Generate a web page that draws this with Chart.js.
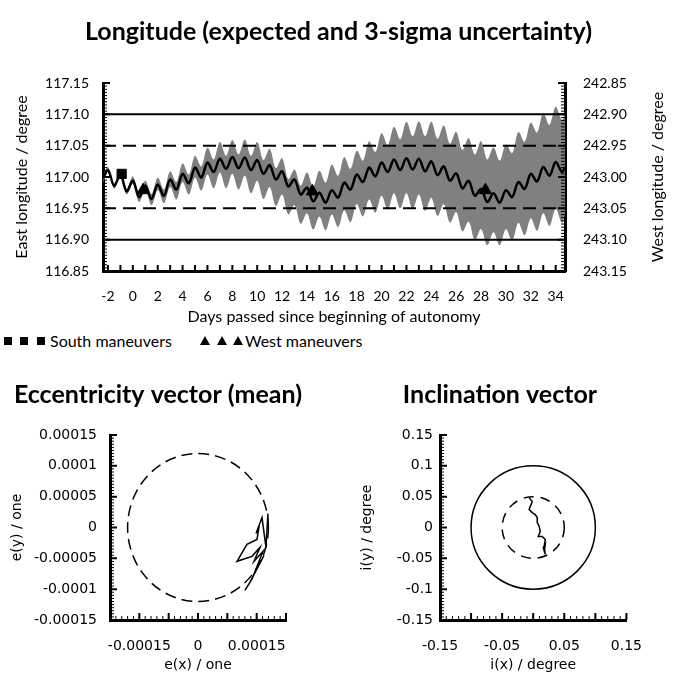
<!DOCTYPE html>
<html>
<head>
<meta charset="utf-8">
<script src="https://cdn.jsdelivr.net/npm/chart.js@4"></script>
<style>
  body { margin: 0; background: #fff; width: 677px; height: 694px; position: relative; overflow: hidden; font-family: Lato; }
  canvas { position: absolute; }
  #lon { left: 0; top: 0; }
  #ecc { left: 0; top: 360px; }
  #inc { left: 340px; top: 360px; }
  .lg { position: absolute; top: 331px; font: 16px Lato; line-height: 20px; color: #000; }
  .sq { position: absolute; top: 337px; width: 8px; height: 8px; background: #000; }
  .tri { position: absolute; top: 336px; width: 0; height: 0; border-left: 5px solid transparent; border-right: 5px solid transparent; border-bottom: 9px solid #000; }
</style>
</head>
<body>
<canvas id="lon" width="677" height="330"></canvas>
<div class="sq" style="left:4px"></div>
<div class="sq" style="left:20px"></div>
<div class="sq" style="left:37px"></div>
<span class="lg" style="left:50px">South maneuvers</span>
<div class="tri" style="left:200px"></div>
<div class="tri" style="left:217px"></div>
<div class="tri" style="left:233px"></div>
<span class="lg" style="left:245px">West maneuvers</span>
<canvas id="ecc" width="316" height="334"></canvas>
<canvas id="inc" width="320" height="334"></canvas>
<script>
Chart.defaults.font.family = "Lato";
Chart.defaults.color = "#000";

// longitude (peaks at whole days, troughs at half days)
const days = [-2.4, -2, -1.5, -1, -0.5, 0, 0.5, 1, 1.5, 2, 2.5, 3, 3.5, 4, 4.5, 5, 5.5, 6, 6.5, 7, 7.5, 8, 8.5, 9, 9.5,
  10, 10.5, 11, 11.5, 12, 12.5, 13, 13.5, 14, 14.5, 15, 15.5, 16, 16.5, 17, 17.5, 18, 18.5, 19, 19.5, 20, 20.5, 21, 21.5,
  22, 22.5, 23, 23.5, 24, 24.5, 25, 25.5, 26, 26.5, 27, 27.5, 28, 28.5, 29, 29.5, 30, 30.5, 31, 31.5, 32, 32.5, 33, 33.5,
  34, 34.5, 34.75];
const lonMean = [116.998, 117.011, 116.986, 117.004, 116.977, 116.994, 116.968, 116.986, 116.965, 116.988, 116.970,
  116.996, 116.980, 117.005, 116.990, 117.015, 116.999, 117.023, 117.008, 117.029, 117.013, 117.032, 117.014, 117.031,
  117.011, 117.027, 117.005, 117.019, 116.996, 117.009, 116.985, 116.996, 116.972, 116.983, 116.961, 116.975, 116.959,
  116.979, 116.967, 116.991, 116.980, 117.004, 116.992, 117.015, 117.001, 117.023, 117.008, 117.028, 117.011, 117.030,
  117.012, 117.029, 117.009, 117.025, 117.003, 117.017, 116.994, 117.006, 116.982, 116.994, 116.970, 116.981, 116.960,
  116.974, 116.959, 116.979, 116.968, 116.992, 116.981, 117.005, 116.993, 117.016, 117.002, 117.024, 117.008, 117.016];
const lonUpper = [117.003, 117.016, 116.989, 117.009, 116.981, 117.001, 116.974, 116.994, 116.973, 116.999, 116.980,
  117.009, 116.992, 117.022, 117.004, 117.034, 117.017, 117.047, 117.028, 117.056, 117.034, 117.059, 117.036, 117.060,
  117.034, 117.056, 117.027, 117.045, 117.014, 117.030, 116.997, 117.012, 116.986, 117.007, 116.985, 117.010, 116.991,
  117.020, 117.002, 117.032, 117.013, 117.042, 117.026, 117.057, 117.040, 117.070, 117.051, 117.080, 117.060, 117.088,
  117.065, 117.089, 117.065, 117.088, 117.061, 117.082, 117.053, 117.072, 117.043, 117.062, 117.036, 117.057, 117.028,
  117.047, 117.026, 117.052, 117.038, 117.072, 117.056, 117.087, 117.071, 117.102, 117.083, 117.112, 117.091, 117.105];
const lonLower = [116.990, 117.008, 116.981, 117.001, 116.972, 116.989, 116.960, 116.979, 116.955, 116.979, 116.958,
  116.984, 116.964, 116.992, 116.972, 116.999, 116.978, 117.004, 116.982, 117.007, 116.982, 117.005, 116.980, 117.002,
  116.974, 116.994, 116.965, 116.984, 116.954, 116.972, 116.940, 116.955, 116.925, 116.942, 116.916, 116.937, 116.915,
  116.940, 116.920, 116.947, 116.928, 116.957, 116.937, 116.964, 116.943, 116.970, 116.948, 116.974, 116.950, 116.974,
  116.949, 116.972, 116.946, 116.967, 116.938, 116.957, 116.927, 116.944, 116.913, 116.929, 116.899, 116.917, 116.891,
  116.912, 116.891, 116.917, 116.898, 116.927, 116.907, 116.934, 116.914, 116.942, 116.922, 116.949, 116.927, 116.940];

const southDays = [-0.9];
const southLon = [117.005];
const westDays = [0.83, 14.43, 28.35];
const westLon = [116.979, 116.977, 116.979];

const limitSolid = [117.10, 116.90];
const limitDashed = [117.05, 116.95];

const dayMin = -2.4, dayMax = 34.75;
const dayTicks = [-2, 0, 2, 4, 6, 8, 10, 12, 14, 16, 18, 20, 22, 24, 26, 28, 30, 32, 34];
const eastTicks = [116.85, 116.90, 116.95, 117.00, 117.05, 117.10, 117.15];
const westTicks = [242.85, 242.90, 242.95, 243.00, 243.05, 243.10, 243.15];

// eccentricity vector (mean)
const eccX = [0.0001193, 0.0001159, 0.0001091, 0.0000989, 0.0001040, 0.0001006, 0.0000835, 0.0000665,
  0.0000920, 0.0001057, 0.0000955, 0.0001108, 0.0000920, 0.0000801, 0.0000869, 0.0001125];
const eccY = [0.0000226, -0.0000323, 0.0000161, -0.0000097, 0.0000016, -0.0000194, -0.0000274, -0.0000548,
  -0.0000468, -0.0000323, -0.0000548, -0.0000387, -0.0000839, -0.0001016, -0.0000919, -0.0000452];
const eccRing = [0.00012];
const eccYTicks = [-0.00015, -0.0001, -0.00005, 0, 0.00005, 0.0001, 0.00015];
const eccXTicks = [-0.0001, 0, 0.0001];
const eccXLabels = ["-0.00015", "0", "0.00015"];

// inclination vector
const incX = [-0.0065, -0.0016, -0.0048, -0.0065, -0.0016, 0.0032, 0.0065, 0.0065, 0.0097, 0.0113, 0.0081,
  0.0145, 0.0194, 0.0177, 0.0194, 0.0161, 0.0194, 0.0177];
const incY = [0.0484, 0.0419, 0.0339, 0.0290, 0.0242, 0.0210, 0.0161, 0.0081, 0.0016, -0.0065, -0.0145,
  -0.0145, -0.0194, -0.0306, -0.0435, -0.0323, -0.0274, -0.0403];
const incRingSolid = [0.1];
const incRingDashed = [0.05];
const incYTicks = [-0.15, -0.1, -0.05, 0, 0.05, 0.1, 0.15];
const incXTicks = [-0.15, -0.05, 0.05, 0.15];

const tickFont = { family: "Lato", size: 14 };
const axisFont = { family: "Lato", size: 16 };
const smallTick = { family: "DejaVu Sans", size: 14 };
const smallAxis = { family: "DejaVu Sans", size: 14 };
const titleFont = { family: "Lato", size: 25, weight: "bold" };

function pts(xs, ys) {
  return xs.map((v, i) => ({ x: v, y: ys[i] }));
}

// inward tick marks along an axis
function ruler(chart, id, step, len, width) {
  const s = chart.scales[id], a = chart.chartArea, ctx = chart.ctx;
  const first = Math.ceil(s.min / step - 1e-6);
  const last = Math.floor(s.max / step + 1e-6);
  ctx.save();
  ctx.strokeStyle = "#000";
  ctx.lineWidth = width;
  ctx.beginPath();
  for (let k = first; k <= last; k++) {
    const p = s.getPixelForValue(k * step);
    if (s.isHorizontal()) { ctx.moveTo(p, a.bottom); ctx.lineTo(p, a.bottom - len); }
    else if (s.position === "left") { ctx.moveTo(a.left, p); ctx.lineTo(a.left + len, p); }
    else { ctx.moveTo(a.right, p); ctx.lineTo(a.right - len, p); }
  }
  ctx.stroke();
  ctx.restore();
}

function ring(chart, r, dash, width) {
  const sx = chart.scales.x, sy = chart.scales.y, ctx = chart.ctx;
  const cx = sx.getPixelForValue(0), cy = sy.getPixelForValue(0);
  const rx = sx.getPixelForValue(r) - cx, ry = cy - sy.getPixelForValue(r);
  ctx.save();
  ctx.strokeStyle = "#000";
  ctx.lineWidth = width;
  ctx.setLineDash(dash);
  ctx.beginPath();
  ctx.ellipse(cx, cy, rx, ry, 0, 0, 2 * Math.PI);
  ctx.stroke();
  ctx.restore();
}

function hline(v, dash) {
  return {
    data: [{ x: dayMin, y: v }, { x: dayMax, y: v }],
    borderColor: "#000", borderWidth: 2, borderDash: dash, pointRadius: 0, fill: false
  };
}

const axisBase = {
  grid: { drawOnChartArea: false, drawTicks: false },
  border: { width: 3, color: "#000" }
};

new Chart(document.getElementById("lon"), {
  type: "line",
  data: {
    datasets: [
      { data: pts(southDays, southLon), showLine: false, pointStyle: "rect", pointRadius: 6.5,
        backgroundColor: "#000", borderColor: "#000" },
      { data: pts(westDays, westLon), showLine: false, pointStyle: "triangle", pointRadius: 7,
        backgroundColor: "#000", borderColor: "#000" },
      { data: pts(days, lonMean), borderColor: "#000", borderWidth: 2.5, pointRadius: 0, tension: 0.35, fill: false },
      hline(limitSolid[0], []),
      hline(limitSolid[1], []),
      hline(limitDashed[0], [13, 7]),
      hline(limitDashed[1], [13, 7]),
      { data: pts(days, lonUpper), borderWidth: 0, pointRadius: 0, tension: 0.35,
        fill: "+1", backgroundColor: "#808080" },
      { data: pts(days, lonLower), borderWidth: 0, pointRadius: 0, tension: 0.35, fill: false }
    ]
  },
  options: {
    responsive: false,
    animation: false,
    layout: { padding: 0 },
    plugins: {
      legend: { display: false },
      tooltip: { enabled: false },
      title: { display: true, text: "Longitude (expected and 3-sigma uncertainty)", font: titleFont,
        color: "#000", padding: { top: 17, bottom: 36 } }
    },
    scales: {
      x: {
        ...axisBase, type: "linear", min: dayMin, max: dayMax,
        afterBuildTicks: s => { s.ticks = dayTicks.map(v => ({ value: v })); },
        ticks: { font: tickFont, padding: 17, maxRotation: 0, autoSkip: false, callback: v => String(v) },
        title: { display: true, text: "Days passed since beginning of autonomy", font: axisFont,
          padding: { top: 0, bottom: 4 } },
        afterFit: s => { s.height = 59; }
      },
      y: {
        ...axisBase, position: "left", min: 116.85, max: 117.15,
        afterBuildTicks: s => { s.ticks = eastTicks.map(v => ({ value: v })); },
        ticks: { font: tickFont, padding: 14, callback: v => v.toFixed(2) },
        title: { display: true, text: "East longitude / degree", font: axisFont, padding: { top: 12, bottom: 0 } },
        afterFit: s => { s.width = 103; }
      },
      y2: {
        ...axisBase, display: true, position: "right", min: 242.85, max: 243.15, reverse: true,
        afterBuildTicks: s => { s.ticks = westTicks.map(v => ({ value: v })); },
        ticks: { font: tickFont, padding: 18, callback: v => v.toFixed(2) },
        afterFit: s => { s.width = 112; }
      }
    }
  },
  plugins: [{
    id: "lonAxes",
    afterDraw(chart) {
      ruler(chart, "x", 1, 6, 2);
      ruler(chart, "y", 0.005, 4, 1);
      ruler(chart, "y", 0.05, 7, 2);
      ruler(chart, "y2", 0.005, 4, 1);
      ruler(chart, "y2", 0.05, 7, 2);
      const a = chart.chartArea, ctx = chart.ctx;
      ctx.save();
      ctx.font = "16px Lato";
      ctx.fillStyle = "#000";
      ctx.textAlign = "center";
      ctx.textBaseline = "middle";
      ctx.translate(658, (a.top + a.bottom) / 2);
      ctx.rotate(-Math.PI / 2);
      ctx.fillText("West longitude / degree", 0, 0);
      ctx.restore();
    }
  }]
});

function vectorChart(id, opts) {
  return new Chart(document.getElementById(id), {
    type: "scatter",
    data: {
      datasets: [{ data: pts(opts.xs, opts.ys), showLine: true, borderColor: "#000", borderWidth: 1.5,
        pointRadius: 0, tension: 0 }]
    },
    options: {
      responsive: false,
      animation: false,
      layout: { padding: 0 },
      plugins: {
        legend: { display: false },
        tooltip: { enabled: false },
        title: { display: true, text: opts.title, font: titleFont, color: "#000",
          padding: { top: 20, bottom: 25 } }
      },
      scales: {
        x: {
          ...axisBase, type: "linear", min: -opts.lim, max: opts.lim,
          afterBuildTicks: s => { s.ticks = opts.xTicks.map(v => ({ value: v })); },
          ticks: { font: smallTick, padding: 18, maxRotation: 0, autoSkip: false, callback: opts.xLabel },
          title: { display: true, text: opts.xTitle, font: smallAxis, padding: { top: 0, bottom: 20 } },
          afterFit: s => { s.height = 74; }
        },
        y: {
          ...axisBase, type: "linear", position: "left", min: -opts.lim, max: opts.lim,
          afterBuildTicks: s => { s.ticks = opts.yTicks.map(v => ({ value: v })); },
          ticks: { font: smallTick, padding: opts.yPad, callback: v => String(v) },
          title: { display: true, text: opts.yTitle, font: smallAxis, padding: { top: opts.yTitlePad, bottom: 0 } },
          afterFit: s => { s.width = opts.yWidth; }
        },
        yr: {
          type: "linear", position: "right", display: true,
          grid: { display: false }, border: { display: false }, ticks: { display: false },
          afterFit: s => { s.width = opts.rightGap; }
        }
      }
    },
    plugins: [{
      id: "rings",
      beforeDatasetsDraw(chart) { opts.rings(chart); },
      afterDraw(chart) {
        ruler(chart, "x", opts.lim / 15, 4, 1);
        ruler(chart, "x", opts.lim / 3, 7, 2);
        ruler(chart, "y", opts.lim / 30, 4, 1);
        ruler(chart, "y", opts.lim / 3, 7, 2);
      }
    }]
  });
}

vectorChart("ecc", {
  title: "Eccentricity vector (mean)", xs: eccX, ys: eccY, lim: 0.00015,
  xTicks: eccXTicks, xLabel: (v, i) => eccXLabels[i], yTicks: eccYTicks,
  xTitle: "e(x) / one", yTitle: "e(y) / one", yWidth: 110, yPad: 13, yTitlePad: 9, rightGap: 30,
  rings: chart => eccRing.forEach(r => ring(chart, r, [11, 6], 1.5))
});

vectorChart("inc", {
  title: "Inclination vector", xs: incX, ys: incY, lim: 0.15,
  xTicks: incXTicks, xLabel: v => String(v), yTicks: incYTicks,
  xTitle: "i(x) / degree", yTitle: "i(y) / degree", yWidth: 100, yPad: 7, yTitlePad: 19, rightGap: 33,
  rings: chart => {
    incRingSolid.forEach(r => ring(chart, r, [], 1.5));
    incRingDashed.forEach(r => ring(chart, r, [10, 7], 1.5));
  }
});
</script>
</body>
</html>
